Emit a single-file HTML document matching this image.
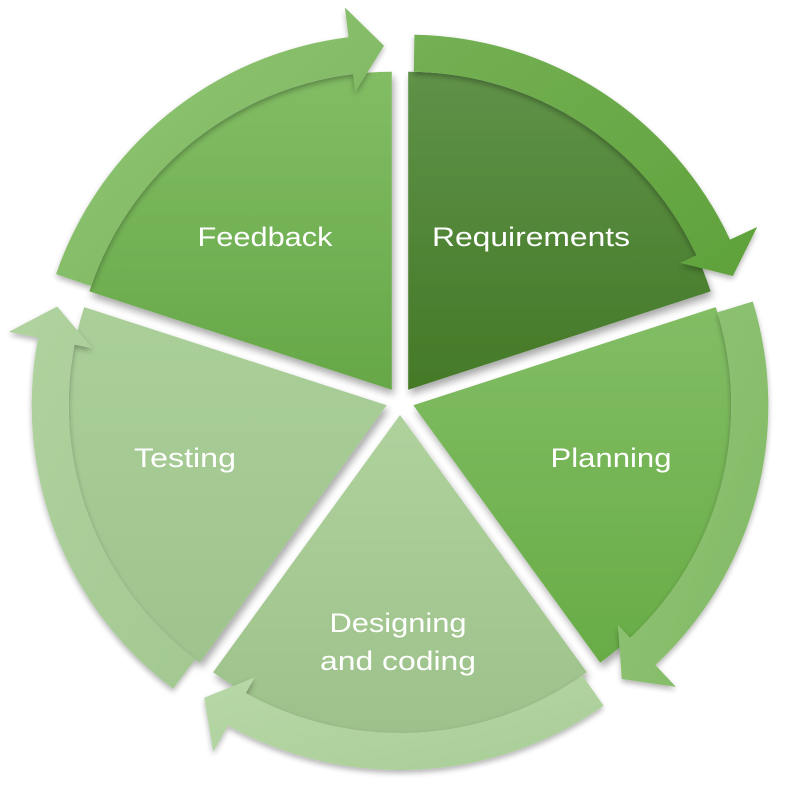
<!DOCTYPE html>
<html><head><meta charset="utf-8"><style>
html,body{margin:0;padding:0;background:#fff;width:792px;height:789px;overflow:hidden}
svg text{font-family:"Liberation Sans",sans-serif;fill:#fff;font-size:27px}
</style></head><body>
<svg id="s" width="792" height="789" viewBox="0 0 792 789" xmlns="http://www.w3.org/2000/svg">
<defs>
<filter id="sh" x="-20%" y="-20%" width="140%" height="140%">
<feGaussianBlur in="SourceAlpha" stdDeviation="4"/>
<feOffset dx="2" dy="5" result="b"/>
<feComponentTransfer><feFuncA type="linear" slope="0.35"/></feComponentTransfer>
<feMerge><feMergeNode/><feMergeNode in="SourceGraphic"/></feMerge>
</filter>
<filter id="sh2" x="-20%" y="-20%" width="140%" height="140%">
<feGaussianBlur in="SourceAlpha" stdDeviation="3"/>
<feOffset dx="0" dy="3" result="b"/>
<feComponentTransfer><feFuncA type="linear" slope="0.3"/></feComponentTransfer>
<feMerge><feMergeNode/><feMergeNode in="SourceGraphic"/></feMerge>
</filter>
</defs>
<g id="g"></g>
<text x="265" y="246" text-anchor="middle" textLength="135" lengthAdjust="spacingAndGlyphs">Feedback</text>
<text x="531" y="246" text-anchor="middle" textLength="198" lengthAdjust="spacingAndGlyphs">Requirements</text>
<text x="611" y="467" text-anchor="middle" textLength="121" lengthAdjust="spacingAndGlyphs">Planning</text>
<text x="185" y="467" text-anchor="middle" textLength="102" lengthAdjust="spacingAndGlyphs">Testing</text>
<text x="398" y="632" text-anchor="middle" textLength="137" lengthAdjust="spacingAndGlyphs">Designing</text>
<text x="398" y="670" text-anchor="middle" textLength="156" lengthAdjust="spacingAndGlyphs">and coding</text>
</svg>
<script>
(function(){
var NS="http://www.w3.org/2000/svg",g=document.getElementById("g"),defs=document.querySelector("defs");
var segs=[
 {s:288,p1:"#82bd64",p2:"#66a748",a1:"#92c877",a2:"#78b25a"},
 {s:0,p1:"#5f9248",p2:"#447927",a1:"#74b054",a2:"#5fa23b"},
 {s:72,p1:"#82bd65",p2:"#68ac46",a1:"#93c579",a2:"#80b963"},
 {s:144,p1:"#afd29d",p2:"#9dc18a",a1:"#b7d8a7",a2:"#a9cd97"},
 {s:216,p1:"#aacf99",p2:"#9fc38d",a1:"#b0d39f",a2:"#a3c891"}
];
function rad(a){return a*Math.PI/180;}
function P(cx,cy,r,a){return (cx+r*Math.sin(rad(a))).toFixed(1)+","+(cy-r*Math.cos(rad(a))).toFixed(1);}
segs.forEach(function(sg,i){
 var s=sg.s,e=s+72,b=s+36,cx=400+14*Math.sin(rad(b)),cy=401-14*Math.cos(rad(b));
 var gp=document.createElementNS(NS,"linearGradient");gp.id="gp"+i;gp.setAttribute("x1","0");gp.setAttribute("y1","0");gp.setAttribute("x2","0");gp.setAttribute("y2","1");
 gp.innerHTML='<stop offset="0" stop-color="'+sg.p1+'"/><stop offset="1" stop-color="'+sg.p2+'"/>';defs.appendChild(gp);
 var ga=document.createElementNS(NS,"linearGradient");ga.id="ga"+i;ga.setAttribute("x1","0");ga.setAttribute("y1","0");ga.setAttribute("x2","1");ga.setAttribute("y2","1");
 ga.innerHTML='<stop offset="0" stop-color="'+sg.a1+'"/><stop offset="1" stop-color="'+sg.a2+'"/>';defs.appendChild(ga);
 var R=318;
 var pie=document.createElementNS(NS,"path");
 pie.setAttribute("d","M"+cx.toFixed(1)+","+cy.toFixed(1)+" L"+P(cx,cy,R,s)+" A"+R+","+R+" 0 0 1 "+P(cx,cy,R,e)+" Z");
 pie.setAttribute("fill","url(#gp"+i+")");pie.setAttribute("filter","url(#sh)");
 g.appendChild(pie);
 var ro=355,ri=318,hb=e-7,as=s+1;
 var d="M"+P(cx,cy,ro,as)+" A"+ro+","+ro+" 0 0 1 "+P(cx,cy,ro,hb)+" L"+P(cx,cy,385,hb)+" L"+P(cx,cy,344,e-1.3)+" L"+P(cx,cy,300,hb)+" L"+P(cx,cy,ri,hb)+" A"+ri+","+ri+" 0 0 0 "+P(cx,cy,ri,as)+" Z";
 var ar=document.createElementNS(NS,"path");ar.setAttribute("d",d);ar.setAttribute("fill","url(#ga"+i+")");ar.setAttribute("filter","url(#sh2)");
 g.appendChild(ar);
});
})();
</script>
</body></html>
